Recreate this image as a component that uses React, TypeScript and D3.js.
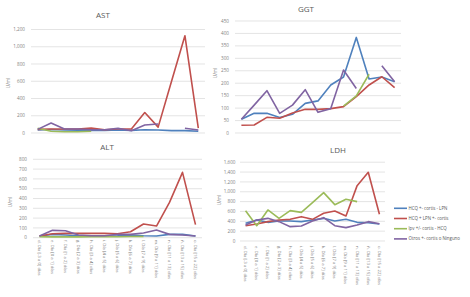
import React from "react";
import * as d3 from "d3";

const categories = [
  "d. Día [-3 a 0] días",
  "e. Día [0 a 1] días",
  "f. Día [1 a 2] días",
  "g. Día [2 a 3] días",
  "h. Día [3 a 4] días",
  "i. Día [4 a 5] días",
  "j. Día [5 a 6] días",
  "k. Día [6 a 7] días",
  "l. Día [7 a 9] días",
  "m. Día [9 a 11] días",
  "n. Día [11 a 13] días",
  "ñ. Día [13 a 15] días",
  "o. Día [15 a 22] días",
];

const seriesNames = [
  "HCQ +- cortis - LPN",
  "HCQ + LPN +- cortis",
  "lpv +/- cortis - HCQ",
  "Otros +- cortis o Ninguno",
];
const seriesColors = ["#4F81BD", "#C0504D", "#9BBB59", "#8064A2"];

type V = number | null;

// AST
const astHcqCortisLpn: V[] = [35, 40, 35, 33, 30, 30, 35, 30, 38, 35, 28, 28, 20];
const astHcqLpnCortis: V[] = [42, 46, 46, 46, 58, 38, 46, 46, 237, 68, 600, 1128, 56];
const astLpvCortisHcq: V[] = [55, 20, 15, 15, 20, null, null, null, null, null, null, null, null];
const astOtros: V[] = [42, 115, 46, 46, 38, 38, 54, 27, 92, 104, null, 55, 35];
const astTicks = [0, 200, 400, 600, 800, 1000, 1200];

// GGT
const ggtHcqCortisLpn: V[] = [55, 79, 79, 62, 75, 119, 129, 193, 225, 384, 217, 225, 206];
const ggtHcqLpnCortis: V[] = [31, 32, 63, 59, 80, 95, 95, 98, 106, 146, 193, 226, 182];
const ggtLpvCortisHcq: V[] = [null, null, null, null, null, null, null, null, 108, 149, 236, null, null];
const ggtOtros: V[] = [55, 112, 170, 79, 112, 174, 83, 98, 253, 179, null, 270, 206];
const ggtTicks = [0, 50, 100, 150, 200, 250, 300, 350, 400, 450];

// ALT
const altHcqCortisLpn: V[] = [17, 34, 27, 20, 20, 17, 20, 27, 20, 17, 34, 34, 17];
const altHcqLpnCortis: V[] = [17, 41, 44, 44, 44, 44, 41, 61, 140, 119, 360, 667, 133];
const altLpvCortisHcq: V[] = [10, 8, 8, 8, 10, 10, 10, 12, 12, null, null, null, null];
const altOtros: V[] = [17, 75, 71, 27, 20, 20, 34, 34, 48, 78, 34, 27, 17];
const altTicks = [0, 100, 200, 300, 400, 500, 600, 700, 800];

// LDH
const ldhHcqCortisLpn: V[] = [359, 427, 379, 406, 406, 393, 427, 460, 406, 440, 379, 372, 345];
const ldhHcqLpnCortis: V[] = [311, 345, 393, 427, 440, 494, 440, 562, 609, 508, 1124, 1395, 542];
const ldhLpvCortisHcq: V[] = [616, 311, 630, 460, 616, 582, 779, 982, 738, 846, 799, null, null];
const ldhOtros: V[] = [325, 427, 460, 393, 291, 305, 406, 474, 311, 271, 325, 393, 352];
const ldhTicks = [0, 200, 400, 600, 800, 1000, 1200, 1400, 1600];

const FONT = "'Open Sans', 'Noto Sans', sans-serif";

type PanelProps = {
  title: string;
  titleX: number;
  titleY: number;
  x0: number;
  x1: number;
  yBottom: number;
  yTop: number;
  ticks: number[];
  labelX: number;
  unitX: number;
  unitY: number;
  series: V[][];
  catLabelY?: number;
};

function Panel(p: PanelProps) {
  const x = d3.scaleBand<string>().domain(categories).range([p.x0, p.x1]).padding(0);
  const max = p.ticks[p.ticks.length - 1];
  const y = d3.scaleLinear().domain([0, max]).range([p.yBottom, p.yTop]);
  const cx = (i: number) => (x(categories[i]) as number) + x.bandwidth() / 2;
  const line = d3
    .line<V>()
    .defined((d) => d != null)
    .x((_, i) => cx(i))
    .y((d) => y(d as number));
  return (
    <g>
      {p.ticks.map((t) => (
        <g key={t}>
          <line x1={p.x0} x2={p.x1} y1={y(t)} y2={y(t)} stroke="#D9D9D9" strokeWidth={0.7} />
          <text
            x={p.labelX}
            y={y(t)}
            dy="0.35em"
            textAnchor="end"
            fontSize={4.6}
            fill="#808080"
            fontFamily={FONT}
          >
            {d3.format(",")(t)}
          </text>
        </g>
      ))}
      <text
        x={p.titleX}
        y={p.titleY}
        textAnchor="middle"
        dy="0.35em"
        fontSize={8}
        fill="#595959"
        fontFamily={FONT}
      >
        {p.title}
      </text>
      <text
        transform={`translate(${p.unitX},${p.unitY}) rotate(-90)`}
        textAnchor="middle"
        dy="0.35em"
        fontSize={4.6}
        fill="#808080"
        fontFamily={FONT}
      >
        U/ml
      </text>
      {p.series.map((s, k) => (
        <path
          key={k}
          d={line(s) || ""}
          fill="none"
          stroke={seriesColors[k]}
          strokeWidth={1.6}
          strokeLinejoin="round"
        />
      ))}
      {p.catLabelY != null &&
        categories.map((c, i) => (
          <text
            key={c}
            transform={`translate(${cx(i)},${p.catLabelY}) rotate(90)`}
            dy="0.35em"
            fontSize={4.3}
            fill="#7a7a7a"
            fontFamily={FONT}
          >
            {c}
          </text>
        ))}
    </g>
  );
}

export default function App() {
  return (
    <svg
      width={470}
      height={297}
      style={{ position: "absolute", left: 0, top: 0, background: "#fff" }}
    >
      <rect width={470} height={297} fill="#fff" />
      <Panel
        title="AST"
        titleX={103}
        titleY={15}
        x0={31}
        x1={205}
        yBottom={133}
        yTop={29.5}
        ticks={astTicks}
        labelX={25}
        unitX={8}
        unitY={83}
        series={[astHcqCortisLpn, astHcqLpnCortis, astLpvCortisHcq, astOtros]}
      />
      <Panel
        title="GGT"
        titleX={306}
        titleY={9}
        x0={235}
        x1={401}
        yBottom={133}
        yTop={21}
        ticks={ggtTicks}
        labelX={229}
        unitX={215}
        unitY={73}
        series={[ggtHcqCortisLpn, ggtHcqLpnCortis, ggtLpvCortisHcq, ggtOtros]}
      />
      <Panel
        title="ALT"
        titleX={107}
        titleY={147}
        x0={33}
        x1={202}
        yBottom={237.7}
        yTop={159.3}
        ticks={altTicks}
        labelX={27}
        unitX={10}
        unitY={202}
        series={[altHcqCortisLpn, altHcqLpnCortis, altLpvCortisHcq, altOtros]}
        catLabelY={240}
      />
      <Panel
        title="LDH"
        titleX={338}
        titleY={150}
        x0={240}
        x1={385}
        yBottom={241}
        yTop={162.2}
        ticks={ldhTicks}
        labelX={235.5}
        unitX={219}
        unitY={200}
        series={[ldhHcqCortisLpn, ldhHcqLpnCortis, ldhLpvCortisHcq, ldhOtros]}
        catLabelY={246}
      />
      {seriesNames.map((n, i) => (
        <g key={n} transform={`translate(394,${208.3 + i * 10.2})`}>
          <line x1={0} x2={13} y1={0} y2={0} stroke={seriesColors[i]} strokeWidth={1.6} />
          <text x={14.5} y={0} dy="0.35em" fontSize={4.4} fill="#595959" fontFamily={FONT}>
            {n}
          </text>
        </g>
      ))}
    </svg>
  );
}
